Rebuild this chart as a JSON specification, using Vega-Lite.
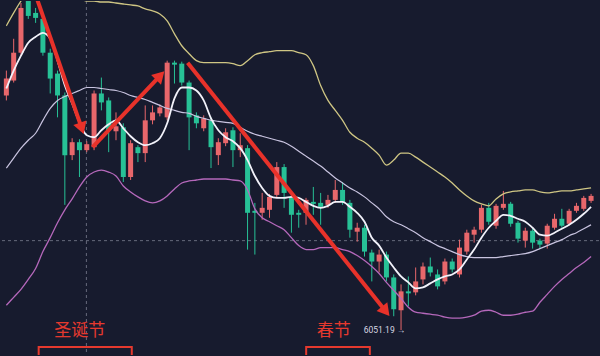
{
  "$schema": "https://vega.github.io/schema/vega-lite/v6.json",
  "width": 600,
  "height": 356,
  "autosize": {"type": "fit", "contains": "padding"},
  "padding": 0,
  "background": "#171b2e",
  "config": {"view": {"stroke": null}},
  "datasets": {
    "k": [
      {"t":0,"o":7231,"h":7356,"l":7206,"c":7316,"up":7581,"mid":6866,"dn":6176,"ma":7266},
      {"t":1,"o":7306,"h":7516,"l":7296,"c":7446,"up":7646,"mid":6916,"dn":6216,"ma":7356},
      {"t":2,"o":7446,"h":7696,"l":7431,"c":7671,"up":7706,"mid":6966,"dn":6256,"ma":7431},
      {"t":3,"o":7706,"h":7731,"l":7616,"c":7631,"up":7756,"mid":7006,"dn":6306,"ma":7496},
      {"t":4,"o":7646,"h":7671,"l":7596,"c":7621,"up":7796,"mid":7041,"dn":6361,"ma":7526},
      {"t":5,"o":7616,"h":7631,"l":7431,"c":7446,"up":7816,"mid":7106,"dn":6446,"ma":7546},
      {"t":6,"o":7446,"h":7466,"l":7241,"c":7316,"up":7816,"mid":7166,"dn":6516,"ma":7516},
      {"t":7,"o":7341,"h":7356,"l":7121,"c":7231,"up":7806,"mid":7206,"dn":6591,"ma":7406},
      {"t":8,"o":7231,"h":7246,"l":6681,"c":6931,"up":7776,"mid":7226,"dn":6656,"ma":7281},
      {"t":9,"o":6931,"h":7016,"l":6906,"c":6996,"up":7746,"mid":7241,"dn":6711,"ma":7191},
      {"t":10,"o":6996,"h":7011,"l":6821,"c":6956,"up":7721,"mid":7256,"dn":6771,"ma":7096},
      {"t":11,"o":6956,"h":7001,"l":6946,"c":6986,"up":7706,"mid":7271,"dn":6821,"ma":7031},
      {"t":12,"o":6971,"h":7256,"l":6956,"c":7241,"up":7706,"mid":7271,"dn":6846,"ma":7021},
      {"t":13,"o":7241,"h":7321,"l":7156,"c":7196,"up":7701,"mid":7266,"dn":6856,"ma":7056},
      {"t":14,"o":7206,"h":7221,"l":6946,"c":7056,"up":7701,"mid":7261,"dn":6846,"ma":7086},
      {"t":15,"o":7051,"h":7146,"l":7006,"c":7076,"up":7696,"mid":7256,"dn":6826,"ma":7106},
      {"t":16,"o":7071,"h":7091,"l":6796,"c":6821,"up":7691,"mid":7246,"dn":6776,"ma":7066},
      {"t":17,"o":6821,"h":7006,"l":6806,"c":6991,"up":7686,"mid":7231,"dn":6746,"ma":7026},
      {"t":18,"o":6971,"h":6981,"l":6896,"c":6941,"up":7681,"mid":7221,"dn":6721,"ma":6996},
      {"t":19,"o":6941,"h":7181,"l":6896,"c":7106,"up":7666,"mid":7211,"dn":6701,"ma":6981},
      {"t":20,"o":7106,"h":7181,"l":7086,"c":7146,"up":7656,"mid":7196,"dn":6691,"ma":6991},
      {"t":21,"o":7141,"h":7186,"l":7126,"c":7171,"up":7641,"mid":7181,"dn":6701,"ma":7016},
      {"t":22,"o":7121,"h":7406,"l":7106,"c":7396,"up":7606,"mid":7166,"dn":6726,"ma":7091},
      {"t":23,"o":7396,"h":7406,"l":7291,"c":7386,"up":7541,"mid":7156,"dn":6761,"ma":7216},
      {"t":24,"o":7391,"h":7401,"l":7281,"c":7296,"up":7481,"mid":7146,"dn":6791,"ma":7271},
      {"t":25,"o":7296,"h":7306,"l":6956,"c":7121,"up":7441,"mid":7141,"dn":6801,"ma":7271},
      {"t":26,"o":7131,"h":7146,"l":7066,"c":7091,"up":7406,"mid":7126,"dn":6806,"ma":7256},
      {"t":27,"o":7066,"h":7131,"l":7051,"c":7116,"up":7396,"mid":7116,"dn":6811,"ma":7206},
      {"t":28,"o":7106,"h":7121,"l":6866,"c":6971,"up":7396,"mid":7106,"dn":6811,"ma":7116},
      {"t":29,"o":6931,"h":7016,"l":6881,"c":6996,"up":7396,"mid":7101,"dn":6811,"ma":7056},
      {"t":30,"o":6991,"h":7066,"l":6976,"c":7046,"up":7396,"mid":7096,"dn":6811,"ma":7021},
      {"t":31,"o":7056,"h":7071,"l":6871,"c":6956,"up":7391,"mid":7091,"dn":6806,"ma":7001},
      {"t":32,"o":6956,"h":7041,"l":6921,"c":6981,"up":7381,"mid":7071,"dn":6801,"ma":6966},
      {"t":33,"o":6966,"h":6981,"l":6456,"c":6641,"up":7406,"mid":7051,"dn":6756,"ma":6906},
      {"t":34,"o":6651,"h":6691,"l":6431,"c":6641,"up":7436,"mid":7036,"dn":6661,"ma":6826},
      {"t":35,"o":6641,"h":6741,"l":6606,"c":6666,"up":7446,"mid":7026,"dn":6616,"ma":6766},
      {"t":36,"o":6656,"h":6736,"l":6616,"c":6721,"up":7451,"mid":7016,"dn":6596,"ma":6726},
      {"t":37,"o":6731,"h":6896,"l":6716,"c":6871,"up":7456,"mid":7006,"dn":6576,"ma":6716},
      {"t":38,"o":6871,"h":6886,"l":6666,"c":6741,"up":7456,"mid":6996,"dn":6556,"ma":6716},
      {"t":39,"o":6721,"h":6736,"l":6541,"c":6631,"up":7456,"mid":6976,"dn":6516,"ma":6721},
      {"t":40,"o":6641,"h":6656,"l":6566,"c":6631,"up":7446,"mid":6951,"dn":6476,"ma":6716},
      {"t":41,"o":6641,"h":6716,"l":6581,"c":6706,"up":7436,"mid":6926,"dn":6456,"ma":6696},
      {"t":42,"o":6696,"h":6771,"l":6631,"c":6686,"up":7381,"mid":6901,"dn":6456,"ma":6676},
      {"t":43,"o":6691,"h":6741,"l":6581,"c":6671,"up":7281,"mid":6876,"dn":6466,"ma":6666},
      {"t":44,"o":6681,"h":6731,"l":6666,"c":6706,"up":7206,"mid":6846,"dn":6466,"ma":6676},
      {"t":45,"o":6706,"h":6806,"l":6691,"c":6756,"up":7156,"mid":6816,"dn":6466,"ma":6696},
      {"t":46,"o":6756,"h":6796,"l":6681,"c":6696,"up":7106,"mid":6791,"dn":6456,"ma":6696},
      {"t":47,"o":6691,"h":6706,"l":6516,"c":6556,"up":7046,"mid":6766,"dn":6446,"ma":6671},
      {"t":48,"o":6546,"h":6591,"l":6496,"c":6566,"up":7016,"mid":6746,"dn":6426,"ma":6641},
      {"t":49,"o":6566,"h":6581,"l":6421,"c":6446,"up":6996,"mid":6721,"dn":6401,"ma":6596},
      {"t":50,"o":6441,"h":6456,"l":6296,"c":6396,"up":6966,"mid":6691,"dn":6371,"ma":6516},
      {"t":51,"o":6396,"h":6456,"l":6341,"c":6431,"up":6931,"mid":6661,"dn":6336,"ma":6476},
      {"t":52,"o":6431,"h":6446,"l":6296,"c":6316,"up":6881,"mid":6621,"dn":6291,"ma":6416},
      {"t":53,"o":6316,"h":6331,"l":6121,"c":6156,"up":6906,"mid":6596,"dn":6251,"ma":6366},
      {"t":54,"o":6151,"h":6281,"l":6051.19,"c":6246,"up":6941,"mid":6581,"dn":6211,"ma":6321},
      {"t":55,"o":6246,"h":6321,"l":6171,"c":6236,"up":6941,"mid":6561,"dn":6166,"ma":6291},
      {"t":56,"o":6241,"h":6366,"l":6226,"c":6296,"up":6921,"mid":6541,"dn":6141,"ma":6261},
      {"t":57,"o":6306,"h":6391,"l":6281,"c":6371,"up":6896,"mid":6516,"dn":6136,"ma":6266},
      {"t":58,"o":6371,"h":6416,"l":6321,"c":6341,"up":6871,"mid":6496,"dn":6131,"ma":6286},
      {"t":59,"o":6331,"h":6356,"l":6256,"c":6271,"up":6846,"mid":6476,"dn":6126,"ma":6306},
      {"t":60,"o":6296,"h":6411,"l":6281,"c":6396,"up":6821,"mid":6461,"dn":6116,"ma":6321},
      {"t":61,"o":6396,"h":6411,"l":6341,"c":6356,"up":6791,"mid":6446,"dn":6111,"ma":6331},
      {"t":62,"o":6331,"h":6506,"l":6316,"c":6466,"up":6756,"mid":6431,"dn":6111,"ma":6356},
      {"t":63,"o":6446,"h":6556,"l":6431,"c":6541,"up":6726,"mid":6421,"dn":6116,"ma":6406},
      {"t":64,"o":6531,"h":6571,"l":6491,"c":6556,"up":6701,"mid":6416,"dn":6126,"ma":6456},
      {"t":65,"o":6556,"h":6681,"l":6541,"c":6666,"up":6686,"mid":6416,"dn":6146,"ma":6516},
      {"t":66,"o":6666,"h":6691,"l":6581,"c":6596,"up":6676,"mid":6416,"dn":6151,"ma":6566},
      {"t":67,"o":6576,"h":6686,"l":6561,"c":6676,"up":6711,"mid":6416,"dn":6141,"ma":6601},
      {"t":68,"o":6666,"h":6751,"l":6656,"c":6686,"up":6736,"mid":6421,"dn":6126,"ma":6631},
      {"t":69,"o":6686,"h":6696,"l":6571,"c":6586,"up":6746,"mid":6426,"dn":6126,"ma":6626},
      {"t":70,"o":6591,"h":6601,"l":6491,"c":6511,"up":6751,"mid":6431,"dn":6131,"ma":6611},
      {"t":71,"o":6501,"h":6566,"l":6466,"c":6551,"up":6756,"mid":6436,"dn":6141,"ma":6596},
      {"t":72,"o":6551,"h":6561,"l":6461,"c":6491,"up":6756,"mid":6446,"dn":6146,"ma":6566},
      {"t":73,"o":6501,"h":6511,"l":6461,"c":6481,"up":6746,"mid":6461,"dn":6191,"ma":6531},
      {"t":74,"o":6486,"h":6586,"l":6461,"c":6576,"up":6741,"mid":6476,"dn":6231,"ma":6526},
      {"t":75,"o":6566,"h":6636,"l":6556,"c":6611,"up":6746,"mid":6491,"dn":6271,"ma":6541},
      {"t":76,"o":6611,"h":6661,"l":6566,"c":6576,"up":6751,"mid":6506,"dn":6306,"ma":6561},
      {"t":77,"o":6586,"h":6661,"l":6576,"c":6651,"up":6751,"mid":6526,"dn":6336,"ma":6581},
      {"t":78,"o":6651,"h":6691,"l":6641,"c":6676,"up":6756,"mid":6541,"dn":6366,"ma":6606},
      {"t":79,"o":6661,"h":6726,"l":6651,"c":6716,"up":6761,"mid":6561,"dn":6391,"ma":6636},
      {"t":80,"o":6701,"h":6736,"l":6691,"c":6726,"up":6766,"mid":6581,"dn":6421,"ma":6671}
    ],
    "arrows": [
      {"a":1,"t":4.2,"p":7716},{"a":1,"t":10.32,"p":7066},
      {"a":2,"t":11.8,"p":6971},{"a":2,"t":21.05,"p":7331},
      {"a":3,"t":24.8,"p":7396},{"a":3,"t":51.9,"p":6146}
    ]
  },
  "encoding": {
    "x": {"field": "t", "type": "quantitative", "axis": null, "scale": {"domain": [-0.05, 80.4], "nice": false, "zero": false}}
  },
  "layer": [
    {
      "data": {"values": [{"t": 10.95}]},
      "mark": {"type": "rule", "color": "#666a7c", "strokeDash": [3, 3], "strokeWidth": 1},
      "encoding": {}
    },
    {
      "data": {"values": [{"p": 6501}]},
      "mark": {"type": "rule", "color": "#666a7c", "strokeDash": [3, 3], "strokeWidth": 1},
      "encoding": {"x": null, "y": {"field": "p", "type": "quantitative", "axis": null, "scale": {"domain": [5926, 7706], "nice": false, "zero": false}}}
    },
    {
      "data": {"name": "k"},
      "mark": {"type": "rule", "strokeWidth": 1, "clip": true},
      "encoding": {
        "y": {"field": "l", "type": "quantitative", "axis": null, "scale": {"domain": [5926, 7706], "nice": false, "zero": false}},
        "y2": {"field": "h"},
        "color": {"condition": {"test": "datum.c >= datum.o", "value": "#e8676b"}, "value": "#27c196"}
      }
    },
    {
      "data": {"name": "k"},
      "mark": {"type": "bar", "size": 5, "clip": true},
      "encoding": {
        "y": {"field": "o", "type": "quantitative", "axis": null, "scale": {"domain": [5926, 7706], "nice": false, "zero": false}},
        "y2": {"field": "c"},
        "color": {"condition": {"test": "datum.c >= datum.o", "value": "#e8676b"}, "value": "#27c196"}
      }
    },
    {
      "data": {"name": "k"},
      "mark": {"type": "line", "color": "#cfc684", "strokeWidth": 1.3, "clip": true, "interpolate": "monotone"},
      "encoding": {"y": {"field": "up", "type": "quantitative", "axis": null, "scale": {"domain": [5926, 7706], "nice": false, "zero": false}}}
    },
    {
      "data": {"name": "k"},
      "mark": {"type": "line", "color": "#c9c4e0", "strokeWidth": 1.2, "clip": true, "interpolate": "monotone"},
      "encoding": {"y": {"field": "mid", "type": "quantitative", "axis": null, "scale": {"domain": [5926, 7706], "nice": false, "zero": false}}}
    },
    {
      "data": {"name": "k"},
      "mark": {"type": "line", "color": "#b568bb", "strokeWidth": 1.3, "clip": true, "interpolate": "monotone"},
      "encoding": {"y": {"field": "dn", "type": "quantitative", "axis": null, "scale": {"domain": [5926, 7706], "nice": false, "zero": false}}}
    },
    {
      "data": {"name": "k"},
      "mark": {"type": "line", "color": "#f2f2fa", "strokeWidth": 1.8, "clip": true, "interpolate": "monotone"},
      "encoding": {"y": {"field": "ma", "type": "quantitative", "axis": null, "scale": {"domain": [5926, 7706], "nice": false, "zero": false}}}
    },
    {
      "data": {"name": "arrows"},
      "mark": {"type": "line", "color": "#e8322a", "strokeWidth": 4, "clip": true},
      "encoding": {
        "y": {"field": "p", "type": "quantitative", "axis": null, "scale": {"domain": [5926, 7706], "nice": false, "zero": false}},
        "detail": {"field": "a"}
      }
    },
    {
      "data": {"values": [{"t": 10.32, "p": 7066}]},
      "mark": {"type": "point", "shape": "triangle-up", "filled": true, "opacity": 1, "color": "#e8322a", "size": 190, "angle": 161},
      "encoding": {"y": {"field": "p", "type": "quantitative", "axis": null, "scale": {"domain": [5926, 7706], "nice": false, "zero": false}}}
    },
    {
      "data": {"values": [{"t": 21.05, "p": 7331}]},
      "mark": {"type": "point", "shape": "triangle-up", "filled": true, "opacity": 1, "color": "#e8322a", "size": 190, "angle": 44},
      "encoding": {"y": {"field": "p", "type": "quantitative", "axis": null, "scale": {"domain": [5926, 7706], "nice": false, "zero": false}}}
    },
    {
      "data": {"values": [{"t": 51.9, "p": 6146}]},
      "mark": {"type": "point", "shape": "triangle-up", "filled": true, "opacity": 1, "color": "#e8322a", "size": 190, "angle": 141},
      "encoding": {"y": {"field": "p", "type": "quantitative", "axis": null, "scale": {"domain": [5926, 7706], "nice": false, "zero": false}}}
    },
    {
      "data": {"values": [{"t": 10.05, "p": 6046, "label": "圣诞节"}, {"t": 44.8, "p": 6046, "label": "春节"}]},
      "mark": {"type": "text", "font": "Noto Sans CJK SC", "fontSize": 17, "color": "#e5392e", "align": "center", "baseline": "middle"},
      "encoding": {
        "y": {"field": "p", "type": "quantitative", "axis": null, "scale": {"domain": [5926, 7706], "nice": false, "zero": false}},
        "text": {"field": "label"}
      }
    },
    {
      "data": {"values": [{"t": 48.9, "p": 6051, "label": "6051.19 →"}]},
      "mark": {"type": "text", "font": "Roboto", "fontSize": 8.5, "color": "#d8d8e2", "align": "left", "baseline": "middle"},
      "encoding": {
        "y": {"field": "p", "type": "quantitative", "axis": null, "scale": {"domain": [5926, 7706], "nice": false, "zero": false}},
        "text": {"field": "label"}
      }
    },
    {
      "data": {"values": [{"t": 4.42, "t2": 17.16, "p": 5966, "p2": 5890}, {"t": 41.02, "t2": 49.73, "p": 5966, "p2": 5890}]},
      "mark": {"type": "rect", "filled": false, "stroke": "#e5392e", "strokeWidth": 2, "clip": true},
      "encoding": {
        "x2": {"field": "t2"},
        "y": {"field": "p", "type": "quantitative", "axis": null, "scale": {"domain": [5926, 7706], "nice": false, "zero": false}},
        "y2": {"field": "p2"}
      }
    }
  ]
}
